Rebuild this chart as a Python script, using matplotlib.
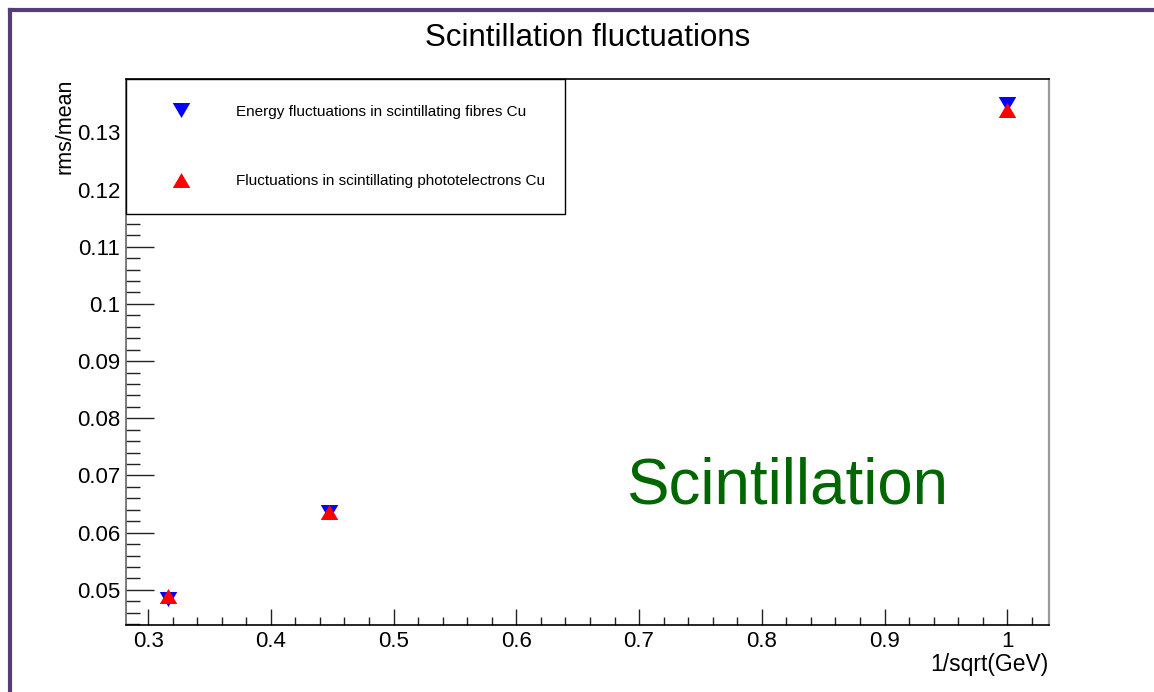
import matplotlib
matplotlib.use("Agg")
import matplotlib.pyplot as plt
from matplotlib.path import Path
from matplotlib.lines import Line2D
from matplotlib.ticker import MultipleLocator, FixedLocator

plt.rcParams['font.family'] = ['Liberation Sans', 'DejaVu Sans']

# 1/sqrt(E) for E = 10, 5, 1 GeV
inv_sqrt_e = [0.3162, 0.4472, 1.0]
fibre_energy_rms = [0.0484, 0.0637, 0.1350]
photoelectron_rms = [0.0489, 0.0636, 0.1339]

label_fibres = "Energy fluctuations in scintillating fibres Cu"
label_pe = "Fluctuations in scintillating phototelectrons Cu"

x_major = [0.3, 0.4, 0.5, 0.6, 0.7, 0.8, 0.9, 1.0]
x_tick_labels = ["0.3", "0.4", "0.5", "0.6", "0.7", "0.8", "0.9", "1"]
y_major = [0.05, 0.06, 0.07, 0.08, 0.09, 0.10, 0.11, 0.12, 0.13]
y_tick_labels = ["0.05", "0.06", "0.07", "0.08", "0.09", "0.1", "0.11", "0.12", "0.13"]

# wide triangle markers (ROOT style 22 / 23)
tri_down = Path([(-1.17, 1.0), (1.17, 1.0), (0.0, -1.0), (-1.17, 1.0)],
                [Path.MOVETO, Path.LINETO, Path.LINETO, Path.CLOSEPOLY])
tri_up = Path([(-1.17, -1.0), (1.17, -1.0), (0.0, 1.0), (-1.17, -1.0)],
              [Path.MOVETO, Path.LINETO, Path.LINETO, Path.CLOSEPOLY])

W, H = 1154, 692
fig = plt.figure(figsize=(W / 100, H / 100), dpi=100)
fig.patch.set_facecolor("white")

# canvas frame (left and top edges)
frame_col = "#553d7a"
fig.add_artist(Line2D([9.5 / W, 9.5 / W], [0, 1 - 9.5 / H], transform=fig.transFigure,
                      color=frame_col, lw=3, solid_capstyle="projecting"))
fig.add_artist(Line2D([9.5 / W, 1], [1 - 9.5 / H, 1 - 9.5 / H], transform=fig.transFigure,
                      color=frame_col, lw=3, solid_capstyle="projecting"))

ax = fig.add_axes([126 / W, 1 - 625 / H, 923 / W, 546 / H])
ax.set_xlim(0.282, 1.034)
ax.set_ylim(0.04386, 0.13932)

ms = 12.6
ax.plot(inv_sqrt_e, fibre_energy_rms, linestyle="none", marker=tri_down, ms=ms,
        color="#0000ff", mew=0, label=label_fibres, zorder=3)
ax.plot(inv_sqrt_e, photoelectron_rms, linestyle="none", marker=tri_up, ms=ms,
        color="#ff0000", mew=0, label=label_pe, zorder=4)

ax.xaxis.set_major_locator(FixedLocator(x_major))
ax.set_xticklabels(x_tick_labels)
ax.xaxis.set_minor_locator(MultipleLocator(0.02))
ax.yaxis.set_major_locator(FixedLocator(y_major))
ax.set_yticklabels(y_tick_labels)
ax.yaxis.set_minor_locator(MultipleLocator(0.002))

ax.tick_params(axis="x", which="major", direction="in", length=11.5, width=1,
               color="#222222", labelsize=16, pad=4.5)
ax.tick_params(axis="x", which="minor", direction="in", length=5.8, width=1, color="#222222")
ax.tick_params(axis="y", which="major", direction="in", length=20, width=1,
               color="#222222", labelsize=16, pad=4)
ax.tick_params(axis="y", which="minor", direction="in", length=10, width=1, color="#222222")

for side in ["top", "bottom"]:
    ax.spines[side].set_color("black")
    ax.spines[side].set_linewidth(1.2)
ax.spines["left"].set_color("#666666")
ax.spines["left"].set_linewidth(1.2)
ax.spines["right"].set_color("#999999")
ax.spines["right"].set_linewidth(1.6)

ax.set_xlabel("1/sqrt(GeV)", fontsize=16.5, loc="right")
ax.xaxis.label.set_va("baseline")
ax.xaxis.set_label_coords(1.0, -46 / 546)

ax.set_ylabel("rms/mean", fontsize=15.5, loc="top")
ax.yaxis.label.set_va("baseline")
ax.yaxis.set_label_coords(-55.5 / 923, 1.0)

fig.text(587.5 / W, 1 - 45.5 / H, "Scintillation fluctuations", ha="center",
         va="baseline", fontsize=22.5, color="black")

ax.text(500 / 923, 121 / 546, "Scintillation", transform=ax.transAxes,
        ha="left", va="baseline", fontsize=45.8, color="#006600")

leg = ax.legend(loc="upper left", bbox_to_anchor=(0, 0, 439 / 923, 1), mode="expand",
                borderaxespad=0, fontsize=11, frameon=True, fancybox=False,
                edgecolor="black", framealpha=1, borderpad=1.69, labelspacing=3.64,
                handlelength=3.86, handletextpad=1.67, numpoints=1)
leg.get_frame().set_linewidth(1.0)
leg.set_zorder(10)

fig.savefig("out.png", dpi=100, facecolor="white")
